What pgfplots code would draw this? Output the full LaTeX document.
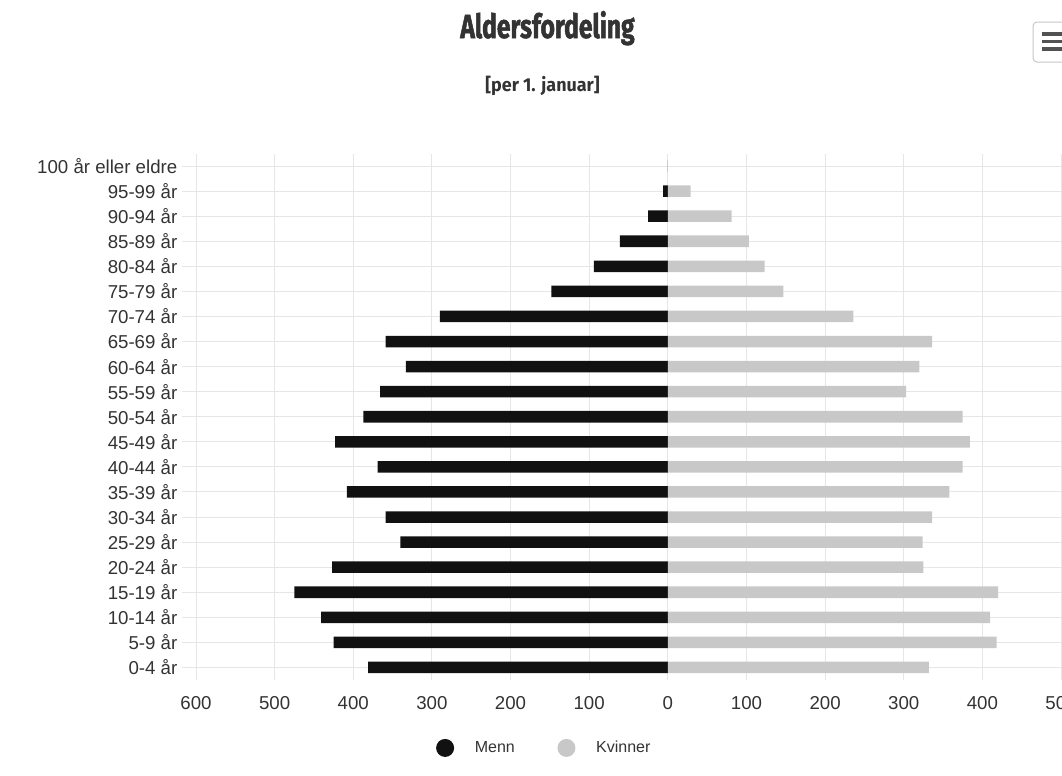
\documentclass[border=0pt]{standalone}
\usepackage{fontspec}
\setmainfont{Liberation Sans}
\newfontfamily\titlefont[FakeStretch=0.74, BoldFeatures={FakeBold=1.5}]{Fira Sans}
\newfontfamily\subfont[FakeStretch=0.96]{Fira Sans}
\usepackage{pgfplots}
\pgfplotsset{compat=1.18}
\definecolor{menn}{HTML}{111111}
\definecolor{kvinner}{HTML}{C8C8C8}
\definecolor{gridc}{HTML}{E6E6E6}
\definecolor{txt}{HTML}{333333}

\begin{document}
\begin{tikzpicture}
\begin{axis}[
  at={(147pt,-510pt)}, anchor=south west,
  scale only axis, width=648.75pt, height=394.875pt,
  xmin=-600, xmax=500, ymin=-0.5, ymax=20.5,
  axis line style={draw=none},
  xtick={-600,-500,...,500},
  xticklabels={600,500,400,300,200,100,0,100,200,300,400,500},
  ytick={0,...,20},
  yticklabels={0-4 år,5-9 år,10-14 år,15-19 år,20-24 år,25-29 år,30-34 år,35-39 år,40-44 år,45-49 år,50-54 år,55-59 år,60-64 år,65-69 år,70-74 år,75-79 år,80-84 år,85-89 år,90-94 år,95-99 år,100 år eller eldre},
  xmajorgrids, ymajorgrids,
  grid style={gridc, line width=0.75pt},
  tick align=outside, major tick length=10.5pt,
  ytick style={gridc, line width=0.75pt},
  xtick style={draw=none},
  tick label style={font=\fontsize{14}{16}\selectfont, text=txt},
  xticklabel style={yshift=1.5pt},
  /pgf/number format/assume math mode=true,
  legend style={at={(0.403,-0.129)}, anchor=center, draw=none, fill=none,
    legend columns=2, font=\fontsize{12}{14}\selectfont, text=txt,
    /tikz/every odd column/.append style={column sep=13.5pt},
    /tikz/every even column/.append style={column sep=30pt}},
]
\addplot[xbar, bar width=0.46, bar shift=0pt, fill=menn, draw=none,
  legend image code/.code={\fill[menn] (0pt,0pt) circle (6.75pt);}]
  coordinates {
  (-381,0) (-425,1) (-441,2) (-475,3) (-427,4) (-340,5) (-359,6)
  (-408,7) (-369,8) (-423,9) (-387,10) (-366,11) (-333,12) (-359,13)
  (-290,14) (-148,15) (-94,16) (-61,17) (-25,18) (-6,19) (0,20)};
\addplot[xbar, bar width=0.46, bar shift=0pt, fill=kvinner, draw=none,
  legend image code/.code={\fill[kvinner] (0pt,0pt) circle (6.75pt);}]
  coordinates {
  (332,0) (418,1) (410,2) (420,3) (325,4) (324,5) (336,6)
  (358,7) (375,8) (384,9) (375,10) (303,11) (320,12) (336,13)
  (236,14) (147,15) (123,16) (103,17) (81,18) (29,19) (0,20)};
\legend{Menn, Kvinner}
\end{axis}
\node[anchor=base, text=txt, font=\titlefont\bfseries\fontsize{25}{28}\selectfont] at (410.6pt,-28.5pt) {Aldersfordeling};
\node[anchor=base, text=txt, font=\subfont\bfseries\fontsize{14}{16}\selectfont] at (406.9pt,-68.25pt) {[per 1. januar]};
% menu button
\draw[gray!45, line width=0.75pt, rounded corners=3pt] (774.75pt,-16.5pt) rectangle (812pt,-46.5pt);
\foreach \yy in {-25.5,-31.25,-36.75}
  \draw[txt!85, line width=2.4pt] (781.5pt,\yy pt) -- (800pt,\yy pt);
\pgfresetboundingbox
\useasboundingbox (0,0) rectangle (796.5pt,-581.25pt);
\end{tikzpicture}
\end{document}
